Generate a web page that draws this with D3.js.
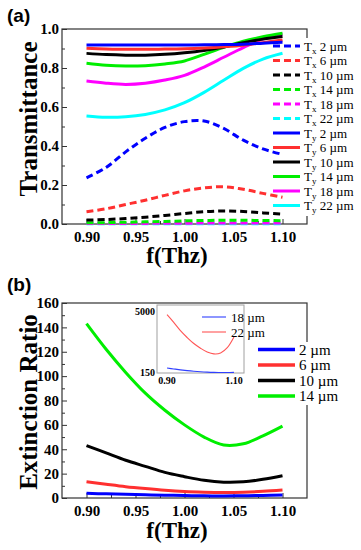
<!DOCTYPE html>
<html>
<head>
<meta charset="utf-8">
<script src="https://cdn.jsdelivr.net/npm/d3@7"></script>
<style>
body{margin:0;background:#fff;}
svg text{font-family:"Liberation Serif","Times New Roman",serif;fill:#000;}
</style>
</head>
<body>
<div id="chart"></div>
<script>
//******************************************************************************
//**  Data
//******************************************************************************
var freqs = [0.90, 0.92, 0.94, 0.96, 0.98, 1.00, 1.02, 1.04, 1.06, 1.08, 1.10];
var sizes = ["2", "6", "10", "14", "18", "22"];

// (a) transmittance, x polarisation
var tx2  = [0.237, 0.290, 0.370, 0.440, 0.495, 0.525, 0.528, 0.490, 0.430, 0.385, 0.357];
var tx6  = [0.063, 0.078, 0.100, 0.122, 0.147, 0.170, 0.185, 0.191, 0.178, 0.157, 0.137];
var tx10 = [0.020, 0.023, 0.028, 0.035, 0.044, 0.054, 0.063, 0.067, 0.064, 0.057, 0.051];
var tx14 = [0.006, 0.007, 0.009, 0.011, 0.013, 0.016, 0.018, 0.019, 0.019, 0.018, 0.017];
var tx18 = [0.002, 0.002, 0.003, 0.003, 0.004, 0.004, 0.005, 0.005, 0.005, 0.005, 0.005];
var tx22 = [0.001, 0.001, 0.001, 0.001, 0.001, 0.001, 0.001, 0.001, 0.001, 0.001, 0.001];

// (a) transmittance, y polarisation
var ty2  = [0.918, 0.918, 0.918, 0.918, 0.918, 0.918, 0.919, 0.920, 0.922, 0.927, 0.932];
var ty6  = [0.901, 0.898, 0.896, 0.896, 0.897, 0.899, 0.903, 0.909, 0.917, 0.930, 0.944];
var ty10 = [0.875, 0.869, 0.866, 0.866, 0.870, 0.878, 0.890, 0.908, 0.930, 0.948, 0.961];
var ty14 = [0.824, 0.814, 0.810, 0.812, 0.821, 0.836, 0.870, 0.906, 0.937, 0.960, 0.978];
var ty18 = [0.733, 0.722, 0.716, 0.722, 0.738, 0.762, 0.805, 0.855, 0.905, 0.948, 0.974];
var ty22 = [0.554, 0.547, 0.550, 0.562, 0.585, 0.622, 0.675, 0.737, 0.798, 0.846, 0.876];

// (b) extinction ratio
var er2  = [3.8, 3.4, 3.0, 2.6, 2.3, 2.0, 1.8, 1.7, 1.8, 2.1, 2.5];
var er6  = [13.4, 11.3, 9.3, 7.7, 6.3, 5.3, 4.8, 4.6, 4.8, 5.5, 6.6];
var er10 = [43, 37, 31, 26, 21, 17.5, 14.5, 13, 13.3, 15.3, 18.3];
var er14 = [143, 122, 103, 86, 72, 60, 50, 43.5, 44.5, 51, 59];
// (b) inset
var er18 = [540, 470, 400, 340, 290, 250, 220, 200, 190, 190, 200];
var er22 = [4760, 4150, 3500, 2960, 2480, 2110, 1810, 1660, 1730, 2150, 3000];

var freqTicks = [0.90, 0.95, 1.00, 1.05, 1.10];
var freqMinor = [0.925, 0.975, 1.025, 1.075];
var transTicks = [0.0, 0.2, 0.4, 0.6, 0.8, 1.0];
var transMinor = [0.1, 0.3, 0.5, 0.7, 0.9];
var extTicks = [0, 20, 40, 60, 80, 100, 120, 140, 160];
var extMinor = [10, 30, 50, 70, 90, 110, 130, 150];
var insetXTicks = [0.90, 1.10];
var insetYTicks = [150, 5000];

var colors = ["#0000ff", "#ff3030", "#000000", "#00ee00", "#ff00ff", "#00ffff"];


//******************************************************************************
//**  Chart
//******************************************************************************
var width = 361, height = 550;

var svg = d3.select("#chart").append("svg")
    .attr("width", width)
    .attr("height", height);

var x = d3.scaleLinear().domain([0.875, 1.125]).range([62, 307]);
var ya = d3.scaleLinear().domain([0, 1]).range([224, 29]);
var yb = d3.scaleLinear().domain([0, 160]).range([498, 303]);

var line = function(yScale){
    return d3.line()
      .x(function(d){ return x(d[0]); })
      .y(function(d){ return yScale(d[1]); })
      .curve(d3.curveCatmullRom.alpha(0.5));
};

var zip = function(vals){
    return freqs.map(function(f, i){ return [f, vals[i]]; });
};


  //**************************************************************************
  //** drawAxes
  //**************************************************************************
    var drawAxes = function(y, yTicks, yMinor, yFmt){
        var top = y.range()[1], bottom = y.range()[0];

        var g = svg.append("g");

      // minor ticks
        g.append("g")
          .attr("transform", "translate(0," + bottom + ")")
          .call(d3.axisBottom(x).tickValues(freqMinor).tickSizeInner(-3).tickSizeOuter(0).tickFormat(""));
        g.append("g")
          .attr("transform", "translate(62,0)")
          .call(d3.axisLeft(y).tickValues(yMinor).tickSizeInner(-3).tickSizeOuter(0).tickFormat(""));

      // major ticks
        g.append("g")
          .attr("transform", "translate(0," + bottom + ")")
          .call(d3.axisBottom(x).tickValues(freqTicks).tickSizeInner(-5).tickSizeOuter(0)
             .tickPadding(7).tickFormat(d3.format(".2f")));
        g.append("g")
          .attr("transform", "translate(62,0)")
          .call(d3.axisLeft(y).tickValues(yTicks).tickSizeInner(-5).tickSizeOuter(0)
             .tickPadding(3).tickFormat(yFmt));

        g.selectAll(".domain").remove();
        g.selectAll(".tick line").attr("stroke", "#333");
        g.selectAll("text")
          .attr("font-family", "Liberation Serif, serif")
          .attr("font-weight", "bold")
          .attr("font-size", 15);

      // frame
        svg.append("rect")
          .attr("x", 62).attr("y", top)
          .attr("width", 245).attr("height", bottom - top)
          .attr("fill", "none")
          .attr("stroke", "#333")
          .attr("stroke-width", 1.2);
    };


//******************************************************************************
//**  Panel (a)
//******************************************************************************
drawAxes(ya, transTicks, transMinor, d3.format(".1f"));

svg.append("rect")
  .attr("x", 268).attr("y", 38).attr("width", 93).attr("height", 178)
  .attr("fill", "#fff");

var txAll = [tx2, tx6, tx10, tx14, tx18, tx22];
var tyAll = [ty2, ty6, ty10, ty14, ty18, ty22];

var gA = svg.append("g");
tyAll.slice().reverse().forEach(function(vals, j){
    var i = 5 - j;
    gA.append("path")
      .attr("d", line(ya)(zip(vals)))
      .attr("fill", "none")
      .attr("stroke", colors[i])
      .attr("stroke-width", 3);
});
txAll.slice().reverse().forEach(function(vals, j){
    var i = 5 - j;
    gA.append("path")
      .attr("d", line(ya)(zip(vals)))
      .attr("fill", "none")
      .attr("stroke", colors[i])
      .attr("stroke-width", 3)
      .attr("stroke-dasharray", "7,4");
});

// legend (a)
var legA = svg.append("g");
for (var k = 0; k < 12; k++){
    var pol = k < 6 ? "x" : "y";
    var ci = k % 6;
    var ry = 46 + k * 14.5;
    legA.append("line")
      .attr("x1", 273).attr("x2", 300)
      .attr("y1", ry).attr("y2", ry)
      .attr("stroke", colors[ci])
      .attr("stroke-width", 3)
      .attr("stroke-dasharray", pol === "x" ? "7,4" : null);
    var t = legA.append("text")
      .attr("x", 304).attr("y", ry + 4.5)
      .attr("font-size", 13);
    t.append("tspan").text("T");
    t.append("tspan").attr("dy", 3).attr("font-size", 9).text(pol);
    t.append("tspan").attr("dy", -3).text(" " + sizes[ci] + " \u00b5m");
}

svg.append("text")
  .attr("x", 7).attr("y", 22)
  .style("font-family", "Liberation Sans, Arial, sans-serif")
  .attr("font-weight", "bold").attr("font-size", 19)
  .text("(a)");

svg.append("text")
  .attr("transform", "translate(37,119) rotate(-90)")
  .attr("text-anchor", "middle")
  .attr("font-weight", "bold").attr("font-size", 25)
  .text("Transmittance");

svg.append("text")
  .attr("x", 177).attr("y", 263)
  .attr("text-anchor", "middle")
  .attr("font-weight", "bold").attr("font-size", 23)
  .text("f(Thz)");


//******************************************************************************
//**  Panel (b)
//******************************************************************************
drawAxes(yb, extTicks, extMinor, d3.format("d"));

svg.append("rect")
  .attr("x", 255).attr("y", 342).attr("width", 106).attr("height", 63)
  .attr("fill", "#fff");

var erAll = [er2, er6, er10, er14];
var gB = svg.append("g");
erAll.forEach(function(vals, i){
    gB.append("path")
      .attr("d", line(yb)(zip(vals)))
      .attr("fill", "none")
      .attr("stroke", colors[i])
      .attr("stroke-width", 3);
});

var legB = svg.append("g");
erAll.forEach(function(vals, i){
    var ry = 349.5 + i * 15.5;
    legB.append("line")
      .attr("x1", 258).attr("x2", 295)
      .attr("y1", ry).attr("y2", ry)
      .attr("stroke", colors[i])
      .attr("stroke-width", 3.5);
    legB.append("text")
      .attr("x", 299).attr("y", ry + 5)
      .attr("font-size", 15)
      .text(sizes[i] + " \u00b5m");
});

// inset
var xi = d3.scaleLinear().domain([0.87, 1.13]).range([157, 244]);
var yi = d3.scaleLinear().domain([150, 5530]).range([373, 305]);

var gI = svg.append("g");
gI.append("rect")
  .attr("x", 157).attr("y", 305).attr("width", 87).attr("height", 68)
  .attr("fill", "#fff")
  .attr("stroke", "#a0a0a0")
  .attr("stroke-width", 1);

var insetLine = d3.line()
  .x(function(d){ return xi(d[0]); })
  .y(function(d){ return yi(d[1]); })
  .curve(d3.curveCatmullRom.alpha(0.5));

var insetColors = ["#3040ff", "#ff5555"];
[er18, er22].forEach(function(vals, i){
    gI.append("path")
      .attr("d", insetLine(zip(vals)))
      .attr("fill", "none")
      .attr("stroke", insetColors[i])
      .attr("stroke-width", 1.1);
    var ry = 317 + i * 15;
    gI.append("line")
      .attr("x1", 202).attr("x2", 226)
      .attr("y1", ry).attr("y2", ry)
      .attr("stroke", insetColors[i])
      .attr("stroke-width", 1.1);
    gI.append("text")
      .attr("x", 231).attr("y", ry + 4.5)
      .attr("font-size", 13)
      .text(sizes[4 + i] + " \u00b5m");
});

insetYTicks.forEach(function(v){
    gI.append("text")
      .attr("x", 155).attr("y", Math.min(yi(v), 372) + 3.5)
      .attr("text-anchor", "end")
      .attr("font-weight", "bold").attr("font-size", 10)
      .text(v);
});
insetXTicks.forEach(function(v){
    gI.append("text")
      .attr("x", xi(v)).attr("y", 384)
      .attr("text-anchor", "middle")
      .attr("font-weight", "bold").attr("font-size", 10)
      .text(d3.format(".2f")(v));
});

svg.append("text")
  .attr("x", 7).attr("y", 291)
  .style("font-family", "Liberation Sans, Arial, sans-serif")
  .attr("font-weight", "bold").attr("font-size", 19)
  .text("(b)");

svg.append("text")
  .attr("transform", "translate(37,402) rotate(-90)")
  .attr("text-anchor", "middle")
  .attr("font-weight", "bold").attr("font-size", 25)
  .text("Extinction Ratio");

svg.append("text")
  .attr("x", 177).attr("y", 538)
  .attr("text-anchor", "middle")
  .attr("font-weight", "bold").attr("font-size", 23)
  .text("f(Thz)");
</script>
</body>
</html>
